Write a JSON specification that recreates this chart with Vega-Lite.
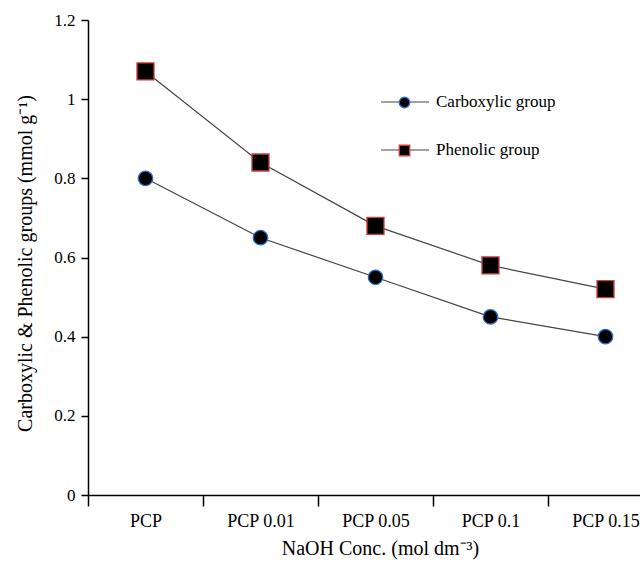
{
  "$schema": "https://vega.github.io/schema/vega-lite/v6.json",
  "width": 552,
  "height": 475,
  "autosize": {"type": "none"},
  "padding": {"left": 88, "top": 20, "right": 0, "bottom": 67},
  "background": "white",
  "config": {
    "view": {"stroke": null},
    "font": "Liberation Serif",
    "style": {"guide-label": {"font": "Liberation Serif"}, "guide-title": {"font": "Liberation Serif"}},
    "axis": {
      "domainColor": "black", "domainWidth": 1.5, "tickColor": "black", "tickWidth": 1.5,
      "labelColor": "black", "titleColor": "black", "labelFont": "Liberation Serif", "titleFont": "Liberation Serif",
      "labelFontSize": 17, "titleFontSize": 20, "titleFontWeight": "normal", "grid": false
    },
    "legend": {"labelFont": "Liberation Serif"}
  },
  "data": {
    "values": [
      {"conc": "PCP", "series": "Carboxylic group", "value": 0.80},
      {"conc": "PCP 0.01", "series": "Carboxylic group", "value": 0.65},
      {"conc": "PCP 0.05", "series": "Carboxylic group", "value": 0.55},
      {"conc": "PCP 0.1", "series": "Carboxylic group", "value": 0.45},
      {"conc": "PCP 0.15", "series": "Carboxylic group", "value": 0.40},
      {"conc": "PCP", "series": "Phenolic group", "value": 1.07},
      {"conc": "PCP 0.01", "series": "Phenolic group", "value": 0.84},
      {"conc": "PCP 0.05", "series": "Phenolic group", "value": 0.68},
      {"conc": "PCP 0.1", "series": "Phenolic group", "value": 0.58},
      {"conc": "PCP 0.15", "series": "Phenolic group", "value": 0.52}
    ]
  },
  "encoding": {
    "x": {
      "field": "conc", "type": "ordinal", "sort": null,
      "scale": {"type": "band", "range": [0, 575], "paddingInner": 0, "paddingOuter": 0},
      "axis": {"title": "NaOH Conc. (mol dm⁻³)", "labelAngle": 0, "labelFontSize": 18, "tickBand": "extent", "tickSize": 11, "labelPadding": 6, "titlePadding": 8, "titleX": 292, "labelFont": "Liberation Serif", "titleFont": "Liberation Serif"}
    },
    "y": {
      "field": "value", "type": "quantitative",
      "scale": {"domain": [0, 1.2], "nice": false, "zero": true},
      "axis": {"title": "Carboxylic & Phenolic groups (mmol g⁻¹)", "values": [0, 0.2, 0.4, 0.6, 0.8, 1, 1.2], "format": ".1~f", "tickSize": 7, "labelPadding": 6, "titlePadding": 18, "titleY": 243, "labelFont": "Liberation Serif", "titleFont": "Liberation Serif"}
    }
  },
  "layer": [
    {
      "mark": {"type": "line", "strokeWidth": 1.2},
      "encoding": {
        "stroke": {
          "field": "series", "type": "nominal",
          "scale": {"domain": ["Carboxylic group", "Phenolic group"], "range": ["#444444", "#444444"]},
          "legend": {
            "orient": "none", "legendX": 292, "legendY": 57, "title": null, "padding": 0,
            "symbolType": "stroke", "symbolSize": 2304, "symbolStrokeWidth": 1.2, "symbolStrokeColor": "#444444",
            "labelFont": "Liberation Serif", "labelFontSize": 17, "labelColor": "black", "labelOffset": 6, "rowPadding": 15
          }
        }
      }
    },
    {
      "transform": [{"filter": "datum.series === 'Carboxylic group'"}],
      "mark": {"type": "point", "shape": "circle", "size": 210, "filled": false, "fill": "black", "fillOpacity": 1, "opacity": 1, "strokeWidth": 1.3},
      "encoding": {
        "stroke": {
          "field": "series", "type": "nominal",
          "scale": {"domain": ["Carboxylic group"], "range": ["#2f6fd0"]},
          "legend": {
            "orient": "none", "legendX": 308, "legendY": 74, "title": null, "padding": 0,
            "symbolFillColor": "black", "symbolStrokeWidth": 1.3, "symbolSize": 110, "labelExpr": "''", "labelFontSize": 17
          }
        }
      }
    },
    {
      "transform": [{"filter": "datum.series === 'Phenolic group'"}],
      "mark": {"type": "point", "shape": "square", "size": 289, "filled": false, "fill": "black", "fillOpacity": 1, "opacity": 1, "strokeWidth": 1.3},
      "encoding": {
        "stroke": {
          "field": "series", "type": "nominal",
          "scale": {"domain": ["Phenolic group"], "range": ["#d23c3c"]},
          "legend": {
            "orient": "none", "legendX": 308, "legendY": 122, "title": null, "padding": 0,
            "symbolFillColor": "black", "symbolStrokeWidth": 1.3, "symbolSize": 110, "labelExpr": "''", "labelFontSize": 17
          }
        }
      }
    }
  ],
  "resolve": {"scale": {"stroke": "independent"}, "legend": {"stroke": "independent"}}
}
